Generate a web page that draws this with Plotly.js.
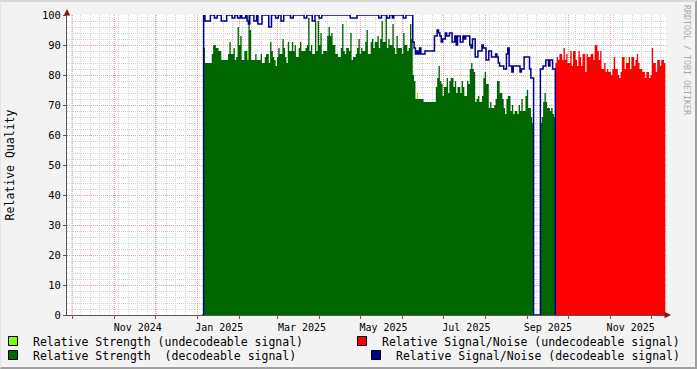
<!DOCTYPE html>
<html><head><meta charset="utf-8">
<script src="https://cdn.plot.ly/plotly-3.0.1.min.js"></script>
<style>
html,body{margin:0;padding:0;background:#f3f3f3;}
#wrap{position:relative;width:697px;height:369px;overflow:hidden;}
#chart{width:697px;height:369px;}
#frame{position:absolute;left:0;top:0;width:697px;height:369px;box-sizing:border-box;border-top:2px solid #d9d9d9;border-left:1px solid #e6e6e6;border-right:2px solid #a0a0a0;border-bottom:2px solid #a0a0a0;pointer-events:none;}
</style></head><body>
<div id="wrap"><div id="chart"></div><div id="frame"></div></div>
<script>
// ---- data (daily values) ----
const decodedStart = '2025-01-04 12:00';   // first value = nothing received yet
const strengthDecoded = [0,
 89,84,84,84,84,84,87,90,90,89, 89,88,88,85,85,85,85,85,87,91,
 87,87,89,85,86,96,90,93,85,85, 88,88,85,100,95,85,85,85,87,85,
 85,85,87,84,84,86,87,87,84,91, 88,86,85,83,86,89,87,87,92,89,
 86,84,91,88,88,91,88,90,86,86, 89,91,88,88,88,89,90,99,88,90,
 87,87,98,88,98,90,94,87,88,88, 88,93,96,93,94,90,90,87,87,86,
 86,89,97,88,87,89,89,88,94,85, 86,86,87,89,92,87,89,88,88,91,
 95,87,87,91,92,89,91,91,93,89, 92,98,91,91,100,89,92,90,90,97,
 89,87,93,89,89,89,87,94,90,90, 88,89,97,92,
 80,78,72,72,72,72,72,72,71,71, 71,71,71,71,71,71,71,76,79,83,
 78,77,73,76,76,79,74,78,79,79, 76,78,74,76,76,74,78,76,73,73,
 78,77,82,84,82,81,71,72,73,71, 71,73,79,81,77,77,69,71,69,69,
 70,72,78,78,74,74,72,69,67,72, 73,73,68,70,67,68,68,67,70,68,
 72,68,68,73,75,69,69,66,64,
 0,0,0,0,0,
 64,66,71,74,71,69,69,68,69,67,66,
 0];
const snDecoded = [0,
 100,98,98,98,98,100,100,100,99,99, 100,100,100,98,98,98,98,100,100,100,
 100,99,99,100,100,99,99,100,99,99, 99,100,98,97,100,100,100,98,98,100,
 97,97,97,100,100,100,100,100,96,96, 100,100,100,99,99,100,100,98,98,100,
 100,100,100,100,99,99,100,100,100,100, 100,100,100,100,99,99,100,100,100,100,
 98,98,100,100,100,99,99,100,100,100, 100,100,100,100,100,100,100,100,100,100,
 100,100,100,100,100,100,100,100,99,99, 99,99,99,100,100,100,100,100,100,100,
 100,100,100,100,100,100,100,100,100,99, 99,100,100,100,100,99,99,100,100,99,
 100,100,100,100,100,100,100,99,99,100, 100,100,100,100,
 91,89,87,88,87,89,87,87,87,88, 88,88,88,88,88,88,
 93,93,95,94,93,91,92,92,94,93, 93,94,94,91,91,93,90,93,93,91,
 91,93,92,93,93,93,90,89,92,92, 86,86,88,88,88,90,89,89,85,85,
 88,88,86,86,86,87,86,84,83,83, 83,82,82,87,89,83,83,81,83,83,
 83,83,83,81,82,82,86,86,86,86, 82,79,79,
 0,0,0,0,0,
 82,82,83,83,85,85,83,85,85,82,82,
 0];
const undecodedStart = '2025-09-20 12:00';
const snUndecoded = [0,
 84,86,85,87,87,85,89,85,87,84, 84,88,83,88,88,85,83,88,86,83,
 87,87,81,87,86,86,87,87,85,90, 90,88,85,88,82,82,84,81,82,81,
 81,80,82,86,82,82,80,79,81,86, 86,82,84,84,86,82,86,86,83,85,
 87,84,82,82,81,81,79,81,81,79, 80,89,84,84,81,85,85,83,85,85,
 84,81];
const strengthUndecodedDates = ['2025-02-07', '2025-06-12', '2025-11-13'];
const strengthUndecoded = [88, 74, 86];

const tickDates = ['2024-11-18','2025-01-17','2025-03-19','2025-05-18','2025-07-18','2025-09-16','2025-11-16'];
const tickText  = ['Nov 2024','Jan 2025','Mar 2025','May 2025','Jul 2025','Sep 2025','Nov 2025'];

const names = {
  su: 'Relative Strength (undecodeable signal)',
  nu: 'Relative Signal/Noise (undecodeable signal)',
  sd: 'Relative Strength  (decodeable signal)',
  nd: 'Relative Signal/Noise (decodeable signal)'
};
const colors = {su:'#80ff00', nu:'#ff0000', sd:'#006600', nd:'#000090'};

function dailyDates(start, n) {
  const t0 = Date.parse(start.replace(' ', 'T') + ':00Z');
  const out = [];
  for (let k = 0; k < n; k++) out.push(new Date(t0 + k * 864e5).toISOString().slice(0,16).replace('T',' '));
  return out;
}

const xRange = ['2024-09-26 22:00', '2025-12-12 00:00'];
const FONT = 'DejaVu Sans Mono';

const traces = [
  {type:'bar', x:strengthUndecodedDates, y:strengthUndecoded, width:864e5,
   marker:{color:colors.su, line:{width:0}}, showlegend:false, hoverinfo:'skip'},
  {type:'scatter', mode:'lines', x:dailyDates(undecodedStart, snUndecoded.length), y:snUndecoded,
   line:{width:0, shape:'hv'}, fill:'tozeroy', fillcolor:colors.nu, showlegend:false, hoverinfo:'skip'},
  {type:'scatter', mode:'lines', x:dailyDates(decodedStart, strengthDecoded.length), y:strengthDecoded,
   line:{width:0, shape:'hv'}, fill:'tozeroy', fillcolor:colors.sd, showlegend:false, hoverinfo:'skip'},
  {type:'scatter', mode:'lines', x:dailyDates(decodedStart, snDecoded.length), y:snDecoded, xaxis:'x2',
   line:{width:1.5, shape:'hv', color:colors.nd}, showlegend:false, hoverinfo:'skip'}
];
// legend entries
[['su','legend'],['sd','legend2'],['nu','legend3'],['nd','legend4']].forEach(([k,lg]) => {
  traces.push({type:'scatter', mode:'markers', x:[null], y:[null], xaxis:'x3', name:names[k], legend:lg,
    marker:{symbol:'square', size:9, color:colors[k], line:{color:'#000', width:1}}, hoverinfo:'skip'});
});

const PL = 67, PW = 599, PT = 15, PH = 300;
const px2x = p => (p - PL) / PW;
const px2y = p => (PT + PH - p) / PH;
const legBase = {bgcolor:'rgba(0,0,0,0)', borderwidth:0, font:{family:FONT, size:11.5, color:'#000'},
                 yanchor:'middle', orientation:'v', itemclick:false, itemdoubleclick:false};

const layout = {
  width:697, height:369,
  margin:{l:PL, r:697-PL-PW, t:PT, b:369-PT-PH, autoexpand:false},
  paper_bgcolor:'#f3f3f3', plot_bgcolor:'#ffffff',
  bargap:0,
  font:{family:FONT, size:10, color:'#000'},
  xaxis:{type:'date', range:xRange, tickmode:'array', tickvals:tickDates, ticktext:tickText,
         showgrid:false, ticks:'', ticklabelstandoff:3, showline:true, linecolor:'#555', linewidth:1,
         zeroline:false, automargin:false, fixedrange:true, tickfont:{family:FONT, size:10, color:'#000'}},
  xaxis2:{type:'date', overlaying:'x', anchor:'y', range:xRange, dtick:'M1', tick0:'2024-10-01',
          showgrid:true, gridcolor:'rgba(200,70,70,0.5)', griddash:'1px,1px', gridwidth:1,
          ticks:'outside', ticklen:3, tickcolor:'#c04040', showticklabels:false, showline:false,
          zeroline:false, automargin:false, fixedrange:true},
  xaxis3:{type:'date', overlaying:'x', anchor:'y', range:xRange, dtick:7*864e5, tick0:'2024-09-30',
          showgrid:true, gridcolor:'#d2d2d2', griddash:'1px,1px', gridwidth:1,
          ticks:'', showticklabels:false, showline:false, zeroline:false, automargin:false, fixedrange:true},
  yaxis:{range:[0,100], tickmode:'linear', tick0:0, dtick:10, showgrid:true,
         gridcolor:'rgba(200,70,70,0.5)', griddash:'1px,1px', gridwidth:1,
         minor:{dtick:2, showgrid:true, gridcolor:'#d2d2d2', griddash:'1px,1px', gridwidth:1, ticks:''},
         ticks:'outside', ticklen:3, tickcolor:'#555', showline:true, linecolor:'#555', linewidth:1,
         zeroline:false, automargin:false, fixedrange:true, tickfont:{family:FONT, size:10.5, color:'#000'},
         title:{text:'Relative Quality', font:{family:FONT, size:11.5, color:'#000'}, standoff:24}},
  legend: Object.assign({}, legBase, {x:px2x(-7), xanchor:'left', y:px2y(341)}),
  legend2: Object.assign({}, legBase, {x:px2x(-7), xanchor:'left', y:px2y(355)}),
  legend3: Object.assign({}, legBase, {x:px2x(685), xanchor:'right', y:px2y(341)}),
  legend4: Object.assign({}, legBase, {x:px2x(685), xanchor:'right', y:px2y(355)}),
  annotations:[
    {xref:'paper', yref:'paper', x:0, y:px2y(9), ax:0, ay:7, axref:'pixel', ayref:'pixel', text:'',
     showarrow:true, arrowhead:2, arrowsize:1.3, arrowwidth:1, arrowcolor:'#8b1010'},
    {xref:'paper', yref:'paper', x:px2x(671), y:0, ax:-7, ay:0, text:'',
     showarrow:true, arrowhead:2, arrowsize:1.3, arrowwidth:1, arrowcolor:'#8b1010'},
    {xref:'paper', yref:'paper', x:px2x(687), y:px2y(60), text:'RRDTOOL / TOBI OETIKER', textangle:90,
     showarrow:false, font:{family:FONT, size:8.3, color:'#aaaaaa'}, xanchor:'center', yanchor:'middle'}
  ],
  hovermode:false
};

Plotly.newPlot('chart', traces, layout, {staticPlot:true, displayModeBar:false});
</script></body></html>
